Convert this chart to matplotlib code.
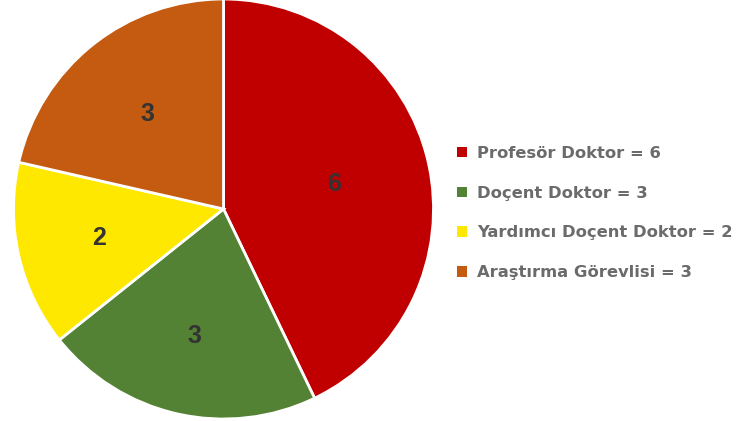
import matplotlib
matplotlib.use("Agg")
import matplotlib.pyplot as plt
from matplotlib.patches import Patch
import numpy as np

categories = ["Profesör Doktor", "Doçent Doktor", "Yardımcı Doçent Doktor", "Araştırma Görevlisi"]
values = [6, 3, 2, 3]
colors = ["#C00000", "#548235", "#FFE800", "#C55A11"]

fig = plt.figure(figsize=(7.48, 4.21), dpi=100)
W, H = 748, 421
cx, cy, r = 223.5, 209, 210
ax = fig.add_axes([(cx - r) / W, (H - cy - r) / H, 2 * r / W, 2 * r / H])
wedges, _ = ax.pie(values, colors=colors, startangle=90, counterclock=False,
                   radius=1.0, wedgeprops=dict(edgecolor="white", linewidth=2))
ax.set_xlim(-1, 1)
ax.set_ylim(-1, 1)
ax.set_aspect("equal")
ax.axis("off")

label_dist = [0.54, 0.62, 0.61, 0.58]
for w, v, d in zip(wedges, values, label_dist):
    ang = np.deg2rad((w.theta1 + w.theta2) / 2)
    ax.text(d * np.cos(ang), d * np.sin(ang), str(v), ha="center", va="center",
            fontsize=18, fontweight="bold", color="#333333", family="Liberation Sans")

handles = [Patch(facecolor=c, edgecolor="none") for c in colors]
labels = [f"{c} = {v}" for c, v in zip(categories, values)]
leg = fig.legend(handles, labels, loc="center left", bbox_to_anchor=(457 / W, 1 - 213 / H),
                 frameon=False, handlelength=0.6, handleheight=0.6, handletextpad=0.65,
                 labelspacing=1.52, prop=dict(family="DejaVu Sans", weight="bold", size=11.8),
                 borderpad=0, borderaxespad=0)
for t in leg.get_texts():
    t.set_color("#6B6B6B")

fig.savefig("out.png", dpi=100)
